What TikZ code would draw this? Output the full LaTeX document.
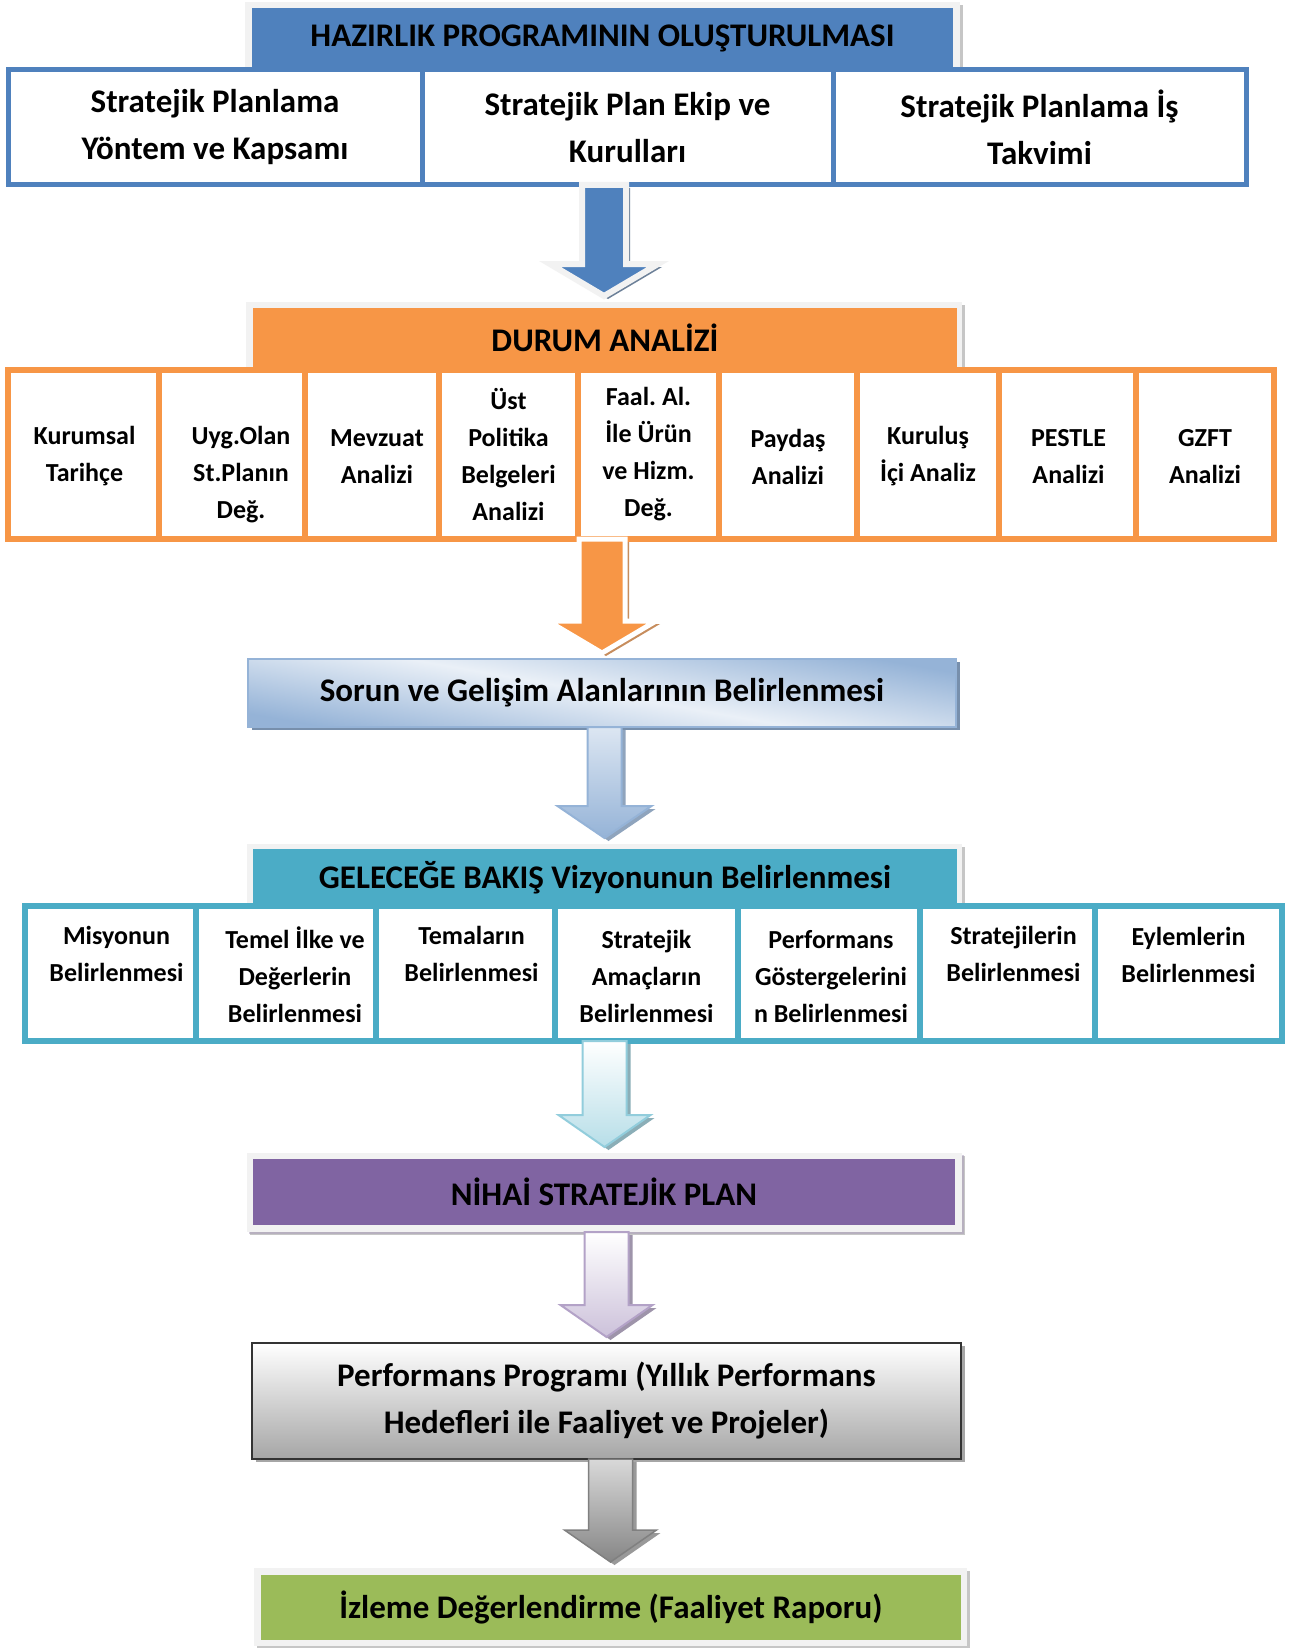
\documentclass[tikz,border=0pt]{standalone}
\usepackage{fontspec}
\setmainfont{Carlito}
\usetikzlibrary{calc, shadows}
\frenchspacing

\definecolor{hzblue}{HTML}{4F81BD}
\definecolor{drorange}{HTML}{F79646}
\definecolor{glteal}{HTML}{4BACC6}
\definecolor{nhpurple}{HTML}{8064A2}
\definecolor{izgreen}{HTML}{9BBB59}
\definecolor{frgray}{HTML}{F2F2F2}
\definecolor{srlight}{HTML}{DCE6F2}
\definecolor{srline}{HTML}{95B3D7}
\definecolor{tealpale}{HTML}{B7DEE8}
\definecolor{tealline}{HTML}{92CDDC}
\definecolor{lilacpale}{HTML}{CCC1DA}
\definecolor{lilacline}{HTML}{B3A2C7}

\newcommand{\bigfont}{\fontsize{33}{47}\selectfont\bfseries}
\newcommand{\smallfont}{\fontsize{26}{37}\selectfont\bfseries}

% block arrow from one named node down to the next: [style]{shaft half}{head half}{from}{to}
\newcommand{\bigarrow}[5][]{%
  \path[#1] let \p1=(#4.south), \p2=(#5.north) in
    (\x2-#2pt,\y1) -- (\x2+#2pt,\y1) -- (\x2+#2pt,\y2+38pt)
    -- (\x2+#3pt,\y2+38pt) -- (\x2,\y2+6pt) -- (\x2-#3pt,\y2+38pt)
    -- (\x2-#2pt,\y2+38pt) -- cycle;}

\begin{document}
\begin{tikzpicture}[x=1pt, y=-1pt,
    every node/.style={inner sep=0pt, outer sep=0pt},
    hdframe/.style={fill=frgray, drop shadow={shadow xshift=3pt, shadow yshift=-3pt, fill=gray!45, opacity=1}},
    header/.style={fill=#1, font=\bigfont},
    hzbox/.style={draw=hzblue, line width=5pt, fill=white, align=center, font=\bigfont},
    drbox/.style={draw=drorange, line width=5.5pt, fill=white},
    drtext/.style={align=center, font=\smallfont},
    glbox/.style={draw=glteal, line width=5.5pt, fill=white},
    gltext/.style={anchor=north, yshift=-20pt, align=center, font=\smallfont},
    ashadow/.style={drop shadow={shadow xshift=4pt, shadow yshift=-3pt, fill=#1, opacity=1}}]

    \path[use as bounding box, fill=white] (0,0) rectangle (1293,1648);

    % Hazirlik programi
    \node[hdframe, minimum width=715, minimum height=67] (hzframe) at (602.5,35.5) {};
    \node[header=hzblue, minimum width=701, minimum height=61] (hazirlik) at (602.5,38.5)
        {HAZIRLIK PROGRAMININ OLUŞTURULMASI};
    \foreach \i/\xa/\xb/\txt in {1/8/422/{Stratejik Planlama\\Yöntem ve Kapsamı},
        2/422/833/{Stratejik Plan Ekip ve\\Kurulları}, 3/833/1246/{Stratejik Planlama İş\\Takvimi}}
        \node[hzbox, minimum width=\xb-\xa, minimum height=115] (p\i) at ({(\xa+\xb)/2},127.5) {\txt};

    % Durum analizi
    \node[hdframe, minimum width=716, minimum height=66] (drframe) at (604,335) {};
    \node[header=drorange, minimum width=704, minimum height=60] (durum) at (605,338) {DURUM ANALİZİ};
    \foreach \i/\xa/\xb/\dx/\dy/\txt in {1/8/159/1/2/{Kurumsal\\Tarihçe}, 2/159/305/9/20/{Uyg.Olan\\St.Planın\\Değ.},
        3/305/439/5/2/{Mevzuat\\Analizi}, 4/439/578/0/0/{Üst\\Politika\\Belgeleri\\Analizi},
        5/578/719/0/0/{Faal. Al.\\İle Ürün\\ve Hizm.\\Değ.}, 6/719/857/0/2/{Paydaş\\Analizi},
        7/857/999/0/2/{Kuruluş\\İçi Analiz}, 8/999/1136/1/2/{PESTLE\\Analizi}, 9/1136/1274/0/2/{GZFT\\Analizi}}
        \node[drbox, minimum width=\xb-\xa, minimum height=169,
            label={[drtext, xshift=\dx pt, yshift=-\dy pt]center:\txt}] (d\i) at ({(\xa+\xb)/2},454.5) {};

    % Sorun ve gelisim alanlari
    \node[draw=srline, line width=1.5pt, top color=srline, bottom color=srline, middle color=srlight!60!white,
        shading angle=-10, ashadow=srline!80!black, minimum width=708, minimum height=68, font=\bigfont]
        (sorun) at (602,693) {Sorun ve Gelişim Alanlarının Belirlenmesi};

    % Gelecege bakis
    \node[hdframe, minimum width=715, minimum height=62] (glframe) at (604.5,875) {};
    \node[header=glteal, minimum width=704, minimum height=57] (gelecek) at (605,877.5)
        {GELECEĞE BAKIŞ Vizyonunun Belirlenmesi};
    \foreach \i/\xa/\xb/\dx/\dy/\txt in {1/25/196/6/0/{Misyonun\\Belirlenmesi},
        2/196/376/9/1/{Temel İlke ve\\Değerlerin\\Belirlenmesi},
        3/376/555/6/0/{Temaların\\Belirlenmesi}, 4/555/738/0/4/{Stratejik\\Amaçların\\Belirlenmesi},
        5/738/920/2/4/{Performans\\Göstergelerini\\n Belirlenmesi}, 6/920/1095/6/0/{Stratejilerin\\Belirlenmesi},
        7/1095/1282/0/1/{Eylemlerin\\Belirlenmesi}}
        \node[glbox, minimum width=\xb-\xa, minimum height=135,
            label={[gltext, xshift=\dx pt, yshift=-\dy pt]north:\txt}] (v\i) at ({(\xa+\xb)/2},973.5) {};

    % Nihai plan
    \node[hdframe, drop shadow={fill=lilacline!80!gray}, minimum width=715, minimum height=79] (nhframe) at (604.5,1192.5) {};
    \node[header=nhpurple, minimum width=702, minimum height=66] (nihai) at (604,1192) {NİHAİ STRATEJİK PLAN};

    % Performans programi
    \node[draw=gray!40!black, line width=2pt, top color=white, bottom color=gray!70, ashadow=gray!70,
        minimum width=709, minimum height=116, align=center, font=\bigfont] (perf) at (606.5,1401)
        {Performans Programı (Yıllık Performans\\Hedefleri ile Faaliyet ve Projeler)};

    % Izleme
    \node[hdframe, minimum width=713, minimum height=78] (izframe) at (610.5,1607) {};
    \node[header=izgreen, minimum width=700, minimum height=65] (izleme) at (611,1607.5)
        {İzleme Değerlendirme (Faaliyet Raporu)};

    % Block arrows
    \bigarrow[fill=hzblue, draw=frgray, line width=6pt, ashadow=hzblue!40!gray]{22}{54}{p2}{drframe}
    \bigarrow[fill=drorange, draw=white, line width=5pt, ashadow=drorange!60!gray]{23}{54}{d5}{sorun}
    \bigarrow[top color=srlight, bottom color=srline, draw=srline, line width=2pt, ashadow=srline!70!gray]{17}{47}{sorun}{glframe}
    \bigarrow[top color=white, bottom color=tealpale, draw=tealline, line width=2pt, ashadow=tealline!60!gray]{22}{46}{v4}{nhframe}
    \bigarrow[top color=white, bottom color=lilacpale, draw=lilacline, line width=2pt, ashadow=lilacline!60!gray]{22}{46}{nhframe}{perf}
    \bigarrow[top color=gray!30, bottom color=gray!95, draw=gray, line width=1.5pt, ashadow=gray!80]{22}{46}{perf}{izframe}
\end{tikzpicture}
\end{document}
